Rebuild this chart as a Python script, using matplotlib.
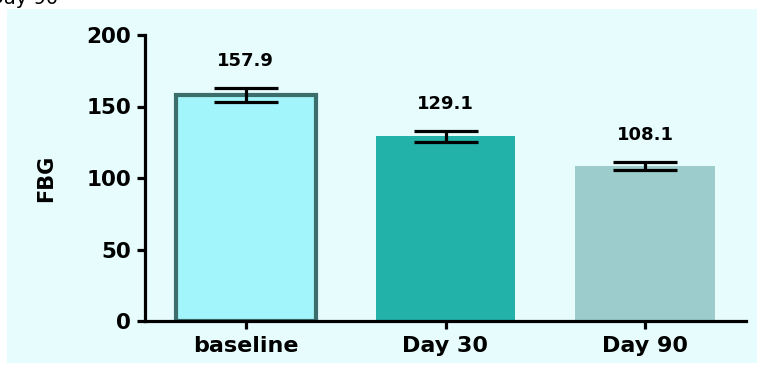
import matplotlib.pyplot as plt
from matplotlib.patches import Rectangle

plt.rcParams['font.family'] = ['DejaVu Sans']

# FBG means and SEM per visit
groups = ['baseline', 'Day 30', 'Day 90']
fbg_mean = [157.9, 129.1, 108.1]
fbg_sem = [4.9, 3.9, 2.8]
bar_colors = ['#a2f6fb', '#22b2a9', '#9dcccc']
edge_colors = ['#3c6e6c', '#22b2a9', '#9dcccc']
edge_widths = [3.0, 0, 0]

W, H = 757, 365
fig = plt.figure(figsize=(W / 100, H / 100), dpi=100)
fig.patch.set_facecolor('white')

# light panel behind the plot
fig.patches.append(Rectangle((7 / W, 2 / H), 1 - 7 / W, (363 - 9) / H,
                             transform=fig.transFigure, facecolor='#e6fcfd',
                             edgecolor='none', zorder=-5))

# cut-off caption at the top edge
fig.text(-11 / W, (H - 4) / H, 'Day 90', fontsize=14, color='black',
         ha='left', va='baseline')

ax = fig.add_axes([145 / W, (H - 321) / H, (746 - 145) / W, (321 - 35) / H])
ax.set_facecolor('none')

x = range(len(groups))
ax.bar(x, fbg_mean, width=0.7, color=bar_colors, edgecolor=edge_colors,
       linewidth=edge_widths, zorder=2)
ax.errorbar(x, fbg_mean, yerr=fbg_sem, fmt='none', ecolor='black',
            elinewidth=2.3, capsize=23, capthick=2.3, zorder=3)

for xi, m, s in zip(x, fbg_mean, fbg_sem):
    ax.text(xi, m + s + 19, f'{m:.1f}', ha='center', va='center',
            fontsize=13, fontweight='bold')

ax.set_xlim(-0.505, 2.505)
ax.set_ylim(0, 200)
ax.set_yticks([0, 50, 100, 150, 200])
ax.set_xticks(list(x))
ax.set_xticklabels(groups)
ax.set_ylabel('FBG', fontsize=15, fontweight='bold')
ax.yaxis.set_label_coords(-0.148, 0.5)

for side in ['top', 'right']:
    ax.spines[side].set_visible(False)
for side in ['left', 'bottom']:
    ax.spines[side].set_linewidth(2.3)

ax.tick_params(axis='both', width=2.3, length=6, direction='out', pad=4)
ax.tick_params(axis='y', labelsize=15.5)
ax.tick_params(axis='x', labelsize=16, pad=5)
for lbl in ax.get_xticklabels() + ax.get_yticklabels():
    lbl.set_fontweight('bold')

fig.savefig('out.png', dpi=100)
